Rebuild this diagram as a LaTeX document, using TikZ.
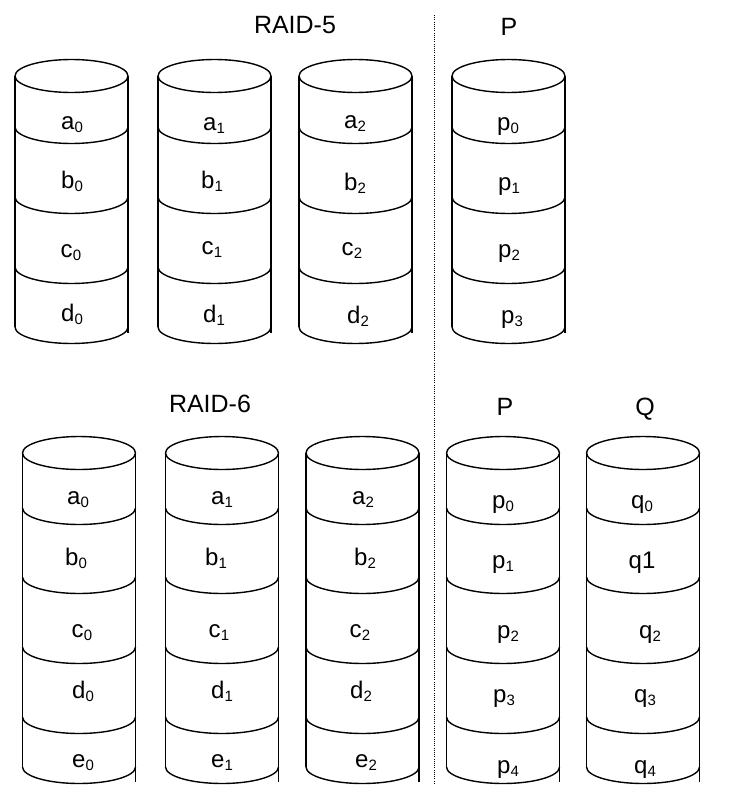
\documentclass[tikz,border=0pt]{standalone}
\usepackage{fontspec}
\setmainfont{Liberation Sans}
\newcommand{\sub}[2]{#1\kern0.3pt\raisebox{-3pt}{\fontsize{15}{15}\selectfont #2}}
\newcommand{\drum}[5]{% xc, top ellipse centre y, separators, bottom y, right side end
  \draw[cylline] (#1,#2) ellipse [x radius=56.5, y radius=16.5];
  \draw[cylline] (#1-56.5,#2) -- (#1-56.5,#4);
  \draw[cylline] (#1+56.5,#2) -- (#1+56.5,#5);
  \foreach \s in {#3,#4} {
    \draw[cylline] (#1-56.5,\s) arc[start angle=180, end angle=0, x radius=56.5, y radius=16.5];
  }
}
\tikzset{
  cylline/.style={line width=1.4pt, black},
  lab/.style={font=\fontsize{24}{24}\selectfont, inner sep=0pt, anchor=base},
  ttl/.style={font=\fontsize{25}{25}\selectfont, inner sep=0pt, anchor=base},
  sep/.style={line width=1pt, dash pattern=on 1pt off 1.2pt}
}
\begin{document}
\begin{tikzpicture}[x=1pt,y=-1pt]
\useasboundingbox (0,0) rectangle (729,806);
% titles
\node[ttl] (t5) at (295,33) {RAID-5};
\node[ttl] (p5) at (509,35) {P};
\node[ttl] (t6) at (210,412) {RAID-6};
\node[ttl] (p6) at (505,415) {P};
\node[ttl] (q6) at (645,415) {Q};
% separator
\coordinate (s1) at (434,15);
\coordinate (s2) at (434,785);
\draw[sep] (s1) -- (s2);
% RAID-5 cylinders
\drum{71.5}{76}{127,197,267}{327}{333}
\drum{214.5}{76}{127,197,267}{327}{333}
\drum{355.5}{76}{127,197,267}{327}{333}
\drum{508.5}{76}{127,197,267}{327}{333}
% RAID-5 labels
\node[lab] (r5a0) at (72,129) {\sub{a}{0}};
\node[lab] (r5b0) at (72,188) {\sub{b}{0}};
\node[lab] (r5c0) at (71,257) {\sub{c}{0}};
\node[lab] (r5d0) at (72,321) {\sub{d}{0}};
\node[lab] (r5a1) at (214,130) {\sub{a}{1}};
\node[lab] (r5b1) at (212,188) {\sub{b}{1}};
\node[lab] (r5c1) at (212,254) {\sub{c}{1}};
\node[lab] (r5d1) at (214,322) {\sub{d}{1}};
\node[lab] (r5a2) at (355,128) {\sub{a}{2}};
\node[lab] (r5b2) at (355,190) {\sub{b}{2}};
\node[lab] (r5c2) at (352,255) {\sub{c}{2}};
\node[lab] (r5d2) at (358,323) {\sub{d}{2}};
\node[lab] (r5p0) at (508,130) {\sub{p}{0}};
\node[lab] (r5p1) at (509,190) {\sub{p}{1}};
\node[lab] (r5p2) at (509,257) {\sub{p}{2}};
\node[lab] (r5p3) at (512,323) {\sub{p}{3}};
% RAID-6 cylinders
\drum{79}{453}{508,577,647,717}{767}{782}
\drum{222}{453}{508,577,647,717}{767}{782}
\drum{362.5}{453}{508,577,647,717}{767}{782}
\drum{503}{453}{508,577,647,717}{767}{782}
\drum{643}{453}{508,577,647,717}{767}{782}
% RAID-6 labels
\node[lab] (r6a0) at (78,504) {\sub{a}{0}};
\node[lab] (r6b0) at (76,565) {\sub{b}{0}};
\node[lab] (r6c0) at (82,637) {\sub{c}{0}};
\node[lab] (r6d0) at (83,698) {\sub{d}{0}};
\node[lab] (r6e0) at (83,767) {\sub{e}{0}};
\node[lab] (r6a1) at (222,504) {\sub{a}{1}};
\node[lab] (r6b1) at (216,565) {\sub{b}{1}};
\node[lab] (r6c1) at (219,637) {\sub{c}{1}};
\node[lab] (r6d1) at (222,698) {\sub{d}{1}};
\node[lab] (r6e1) at (222,767) {\sub{e}{1}};
\node[lab] (r6a2) at (363,504) {\sub{a}{2}};
\node[lab] (r6b2) at (365,565) {\sub{b}{2}};
\node[lab] (r6c2) at (360,637) {\sub{c}{2}};
\node[lab] (r6d2) at (361,698) {\sub{d}{2}};
\node[lab] (r6e2) at (366,767) {\sub{e}{2}};
\node[lab] (r6p0) at (503,508) {\sub{p}{0}};
\node[lab] (r6p1) at (503,568) {\sub{p}{1}};
\node[lab] (r6p2) at (508,638) {\sub{p}{2}};
\node[lab] (r6p3) at (504,702) {\sub{p}{3}};
\node[lab] (r6p4) at (508,773) {\sub{p}{4}};
\node[lab] (r6q0) at (642,508) {\sub{q}{0}};
\node[lab] (r6q1) at (642,568) {q1};
\node[lab] (r6q2) at (650,638) {\sub{q}{2}};
\node[lab] (r6q3) at (645,702) {\sub{q}{3}};
\node[lab] (r6q4) at (645,773) {\sub{q}{4}};
\end{tikzpicture}
\end{document}
